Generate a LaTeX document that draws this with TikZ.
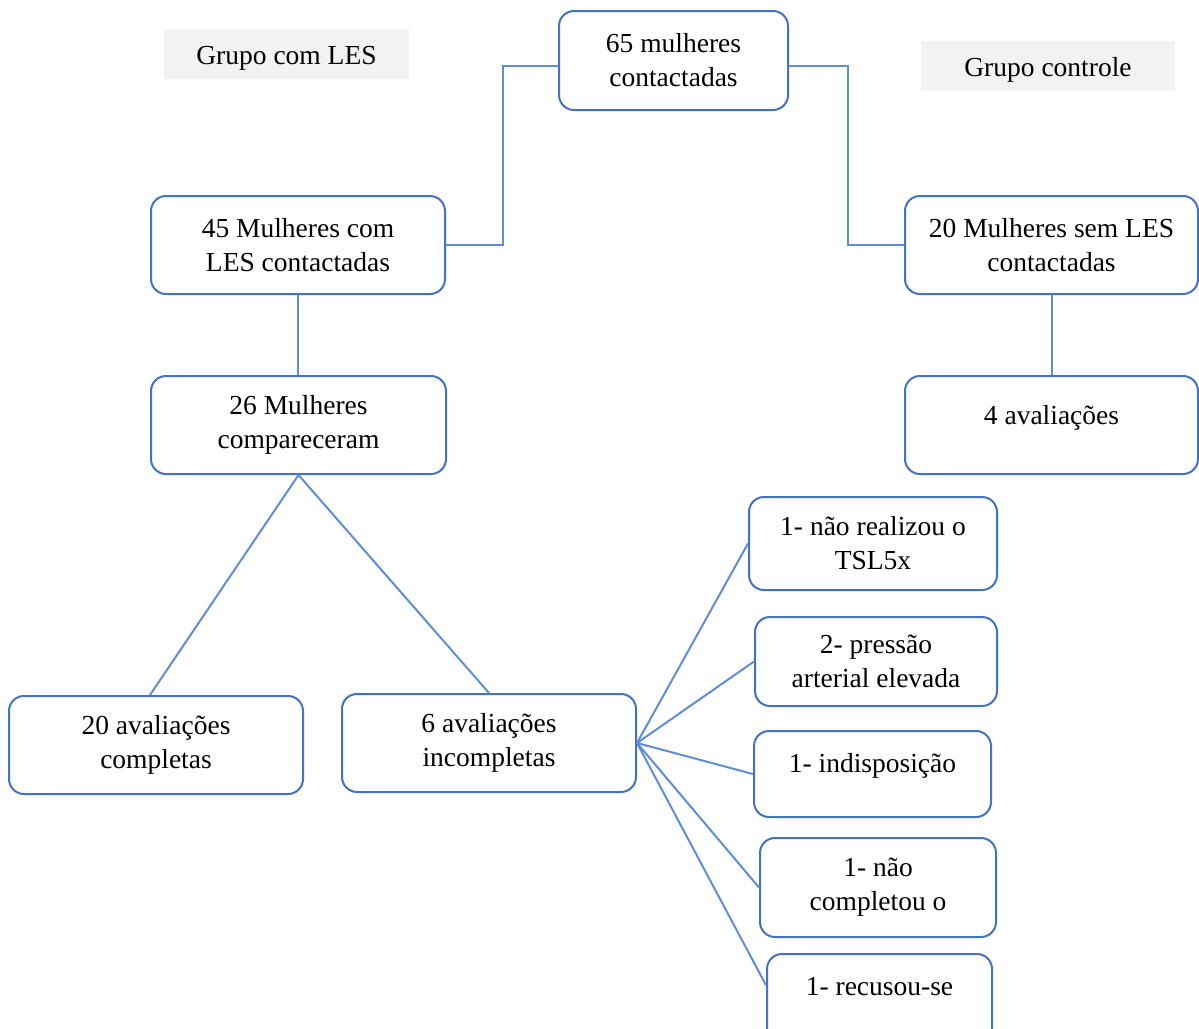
\documentclass[tikz,border=0pt]{standalone}
\usepackage{fontspec}
\setmainfont{Liberation Serif}
\usetikzlibrary{calc}
\definecolor{boxblue}{RGB}{68,114,196}
\definecolor{lineblue}{RGB}{96,142,214}
\definecolor{labgray}{RGB}{242,242,242}
\tikzset{
  box/.style={draw=boxblue, line width=2pt, rounded corners=15pt, fill=white,
    align=center, inner sep=0pt, font=\fontsize{27.5}{34}\selectfont},
  grp/.style={fill=labgray, inner sep=0pt},
  txt/.style={inner sep=0pt, align=center, font=\fontsize{27.5}{34}\selectfont},
  conn/.style={draw=lineblue, line width=2pt}
}
\begin{document}
\begin{tikzpicture}[x=1pt,y=-1pt]
\useasboundingbox (0,0) rectangle (1199,1028);
\fill[white] (0,0) rectangle (1199,1028);

% group labels
\node[grp, minimum width=245pt, minimum height=50pt] (gles) at (286.5,54) {};
\node[txt] (glest) at ($(gles.center)+(0,4)$) {Grupo com LES};
\node[grp, minimum width=254pt, minimum height=50pt] (gctrl) at (1048,66) {};
\node[txt] (gctrlt) at ($(gctrl.center)+(0,4)$) {Grupo controle};

% boxes
\node[box, minimum width=229pt, minimum height=99pt] (top) at (673.5,60.5) {65 mulheres\\contactadas};
\node[box, minimum width=294pt, minimum height=98pt] (b45) at (298,245) {45 Mulheres com\\LES contactadas};
\node[box, minimum width=293pt, minimum height=98pt] (b20s) at (1051.5,245) {20 Mulheres sem LES\\contactadas};
\node[box, minimum width=295pt, minimum height=98pt] (b26) at (298.5,425) {26 Mulheres\\compareceram};
\node[box, minimum width=293pt, minimum height=98pt] (b4) at (1051.5,425) {};
\node[txt] (b4t) at ($(b4.center)+(0,-7)$) {4 avaliações};
\node[box, minimum width=294pt, minimum height=98pt] (b20c) at (156,745) {20 avaliações\\completas};
\node[box, minimum width=294pt, minimum height=98pt] (b6) at (489,743) {6 avaliações\\incompletas};

\node[box, minimum width=248pt, minimum height=93pt] (r1) at (873,543.5) {1- não realizou o\\TSL5x};
\node[box, minimum width=242pt, minimum height=89pt] (r2) at (876,661.5) {2- pressão\\arterial elevada};
\node[box, minimum width=237pt, minimum height=86pt] (r3) at (872.5,774) {};
\node[txt] (r3t) at ($(r3.center)+(0,-8)$) {1- indisposição};
\node[box, minimum width=236pt, minimum height=99pt] (r4) at (878,887.5) {1- não\\completou o};
\node[box, minimum width=225pt, minimum height=90pt] (r5) at (879.5,999) {};
\node[txt] (r5t) at ($(r5.center)+(0,-12)$) {1- recusou-se};
\coordinate (r5in) at ($(r5.north west)!0.35!(r5.south west)$);
\coordinate (topw) at ($(top.west)+(0,5)$);
\coordinate (tope) at ($(top.east)+(0,5)$);

% connectors
\draw[conn] (topw) -- ++(-55,0) |- (b45.east);
\draw[conn] (tope) -- ++(59,0) |- (b20s.west);
\draw[conn] (b45.south) -- (b45.south |- b26.north);
\draw[conn] (b20s.south) -- (b4.north);
\draw[conn] (b26.south) -- ($(b20c.north)+(-6,0)$);
\draw[conn] (b26.south) -- (b6.north);
\draw[conn] (b6.east) -- (r1.west);
\draw[conn] (b6.east) -- (r2.west);
\draw[conn] (b6.east) -- (r3.west);
\draw[conn] (b6.east) -- (r4.west);
\draw[conn] (b6.east) -- (r5in);
\end{tikzpicture}
\end{document}
